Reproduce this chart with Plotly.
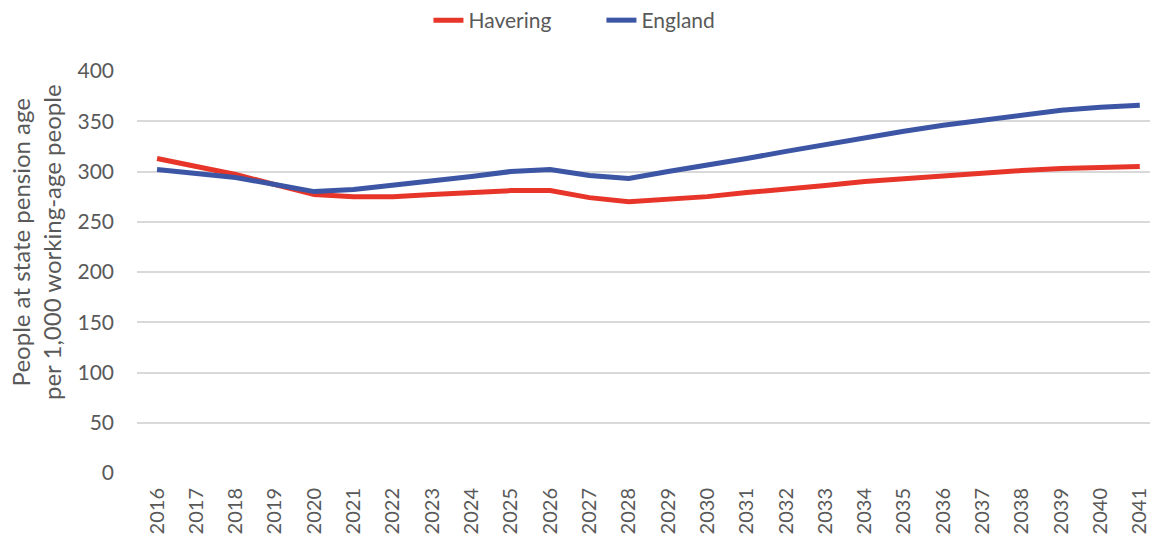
import plotly.graph_objects as go

years = list(range(2016, 2042))
havering = [313, 305, 297, 287, 277, 275, 275, 277, 279, 281, 281, 274, 270, 272, 275, 279, 282, 286, 290, 293, 296, 298, 301, 303, 304, 305]
england = [302, 298, 294, 287, 280, 282, 286, 290, 295, 300, 302, 296, 293, 300, 306, 313, 320, 327, 334, 340, 346, 351, 357, 361, 364, 366]
y_ticks = [0, 50, 100, 150, 200, 250, 300, 350, 400]

FONT = "Lato, 'Open Sans', sans-serif"
GRAY = "#595959"

W, H = 1150, 540
L, R, T, B = 137, 0, 71, 67
plot_w = W - L - R
plot_h = H - T - B

fig = go.Figure()
fig.add_trace(go.Scatter(x=years, y=havering, mode="lines", name="Havering",
                         line=dict(color="#E8352A", width=5)))
fig.add_trace(go.Scatter(x=years, y=england, mode="lines", name="England",
                         line=dict(color="#3C55A5", width=5)))

fig.update_layout(
    width=W, height=H,
    margin=dict(l=L, r=R, t=T, b=B, autoexpand=False),
    paper_bgcolor="white", plot_bgcolor="white",
    font=dict(family=FONT, size=21, color=GRAY),
    showlegend=True,
    legend=dict(orientation="h", xref="container", x=0.523, xanchor="center",
                yref="container", y=1.0, yanchor="top",
                entrywidth=128, entrywidthmode="pixels",
                font=dict(size=21, color=GRAY), tracegroupgap=0),
    xaxis=dict(range=[2015.49, 2041.26], tickmode="array", tickvals=years,
               ticktext=[str(y) for y in years], tickangle=-90,
               ticklabeloverflow="allow",
               showgrid=False, zeroline=False, showline=False, automargin=False,
               ticks="", ticklabelstandoff=10, tickfont=dict(size=20, color=GRAY)),
    yaxis=dict(range=[0, 400], tickmode="array", tickvals=y_ticks,
               showgrid=True, gridcolor="#D9D9D9", gridwidth=1.5, automargin=False,
               zeroline=False, showline=False, ticks="",
               ticklabelstandoff=22, tickfont=dict(size=21, color=GRAY)),
)

fig.add_annotation(
    text="People at state pension age<br>per 1,000 working-age people",
    xref="paper", yref="paper",
    x=(36 - L) / plot_w, y=(H - B - 242) / plot_h,
    xanchor="center", yanchor="middle", textangle=-90, showarrow=False,
    font=dict(size=24, color=GRAY, family=FONT),
)

fig.write_html(
    "out.html",
    config={"displayModeBar": False},
    post_script="document.body.style.margin='0';document.body.style.overflow='hidden';",
)
